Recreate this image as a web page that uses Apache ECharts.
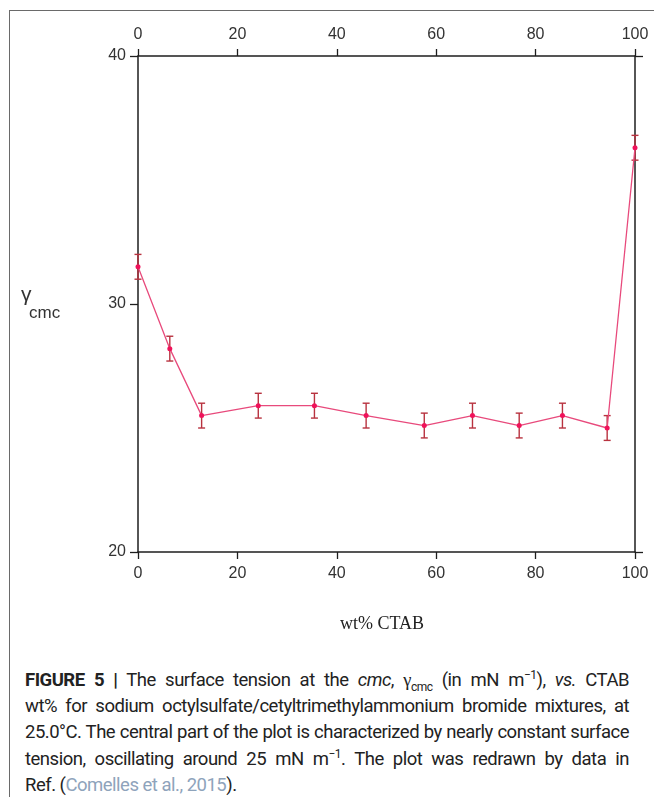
<!DOCTYPE html>
<html>
<head>
<meta charset="utf-8">
<script src="https://cdn.jsdelivr.net/npm/echarts@6/dist/echarts.min.js"></script>
<style>
  html, body { margin: 0; padding: 0; background: #fff; }
  #wrap { position: relative; width: 654px; height: 797px; overflow: hidden; }
  #frameTop { position: absolute; left: 9px; top: 10px; width: 645px; height: 0; border-top: 1px solid #6a6a6a; }
  #frameLeft { position: absolute; left: 9px; top: 10px; width: 0; height: 787px; border-left: 1px solid #6a6a6a; }
  #chart { position: absolute; left: 0; top: 0; width: 654px; height: 650px; }
  #caption { position: absolute; left: 25px; top: 667px; width: 604px; font-family: Roboto, "Liberation Sans", sans-serif; font-size: 18.5px; color: #222; letter-spacing: -0.5px; }
  #caption .ln { height: 26.2px; line-height: 26.2px; text-align: justify; text-align-last: justify; white-space: nowrap; }
  #caption .last { text-align: left; text-align-last: left; }
  #caption sup, #caption sub { font-size: 12px; line-height: 0; }
  #caption .ref { color: #8ea3bb; }
</style>
</head>
<body>
<div id="wrap">
  <div id="frameTop"></div>
  <div id="frameLeft"></div>
  <div id="chart"></div>
  <div id="caption">
    <div class="ln"><b>FIGURE 5 |</b> The surface tension at the <i>cmc</i>, <span style="font-family:'Liberation Serif',serif">γ</span><sub>cmc</sub> (in mN m<sup>−1</sup>), <i>vs.</i> CTAB</div>
    <div class="ln">wt% for sodium octylsulfate/cetyltrimethylammonium bromide mixtures, at</div>
    <div class="ln">25.0°C. The central part of the plot is characterized by nearly constant surface</div>
    <div class="ln">tension, oscillating around 25 mN m<sup>−1</sup>. The plot was redrawn by data in</div>
    <div class="ln last">Ref. (<span class="ref">Comelles et al., 2015</span>).</div>
  </div>
</div>
<script>
// ---- data ----
const wtCTAB   = [0, 6.4, 12.8, 24.2, 35.5, 45.9, 57.6, 67.3, 76.7, 85.4, 94.4, 100];
const gammaCmc = [31.5, 28.2, 25.5, 25.9, 25.9, 25.5, 25.1, 25.5, 25.1, 25.5, 25.0, 36.3];
const gammaErr = [0.5, 0.5, 0.5, 0.5, 0.5, 0.5, 0.5, 0.5, 0.5, 0.5, 0.5, 0.5];
const xTicks = [0, 20, 40, 60, 80, 100];
const yTicks = [20, 30, 40];

const lineData = wtCTAB.map((x, i) => [x, gammaCmc[i]]);
const errData = wtCTAB.map((x, i) => [x, gammaCmc[i] - gammaErr[i], gammaCmc[i] + gammaErr[i]]);

const axisColor = '#1e1e1e';
const labelStyle = { color: '#333', fontSize: 16, fontFamily: 'Liberation Sans, Arial, sans-serif' };

const chart = echarts.init(document.getElementById('chart'), null, { renderer: 'canvas' });
chart.setOption({
  animation: false,
  grid: { left: 138, right: 19, top: 56, height: 496, containLabel: false },
  xAxis: [
    {
      type: 'value', position: 'bottom', min: 0, max: 100, interval: 20,
      axisLine: { show: true, onZero: false, lineStyle: { color: axisColor, width: 1.5 } },
      axisTick: { show: true, length: 7, lineStyle: { color: axisColor, width: 1.3 } },
      axisLabel: Object.assign({ margin: 14 }, labelStyle),
      splitLine: { show: false }
    },
    {
      type: 'value', position: 'top', min: 0, max: 100, interval: 20,
      axisLine: { show: true, onZero: false, lineStyle: { color: axisColor, width: 1.5 } },
      axisTick: { show: true, length: 7, lineStyle: { color: axisColor, width: 1.3 } },
      axisLabel: Object.assign({ margin: 13 }, labelStyle),
      splitLine: { show: false }
    }
  ],
  yAxis: [
    {
      type: 'value', position: 'left', min: 20, max: 40, interval: 10,
      axisLine: { show: true, onZero: false, lineStyle: { color: axisColor, width: 1.5 } },
      axisTick: { show: true, length: 8, lineStyle: { color: axisColor, width: 1.3 } },
      axisLabel: Object.assign({ margin: 12 }, labelStyle),
      splitLine: { show: false }
    },
    {
      type: 'value', position: 'right', min: 20, max: 40, interval: 20,
      axisLine: { show: true, onZero: false, lineStyle: { color: axisColor, width: 1.5 } },
      axisTick: { show: true, length: 8, lineStyle: { color: axisColor, width: 1.3 } },
      axisLabel: { show: false },
      splitLine: { show: false }
    }
  ],
  graphic: [
    { type: 'text', left: 21, top: 285, style: { text: 'γ', font: '21px "Liberation Sans", Arial, sans-serif', fill: '#333' } },
    { type: 'text', left: 29, top: 305, style: { text: 'cmc', font: '17px "Liberation Sans", Arial, sans-serif', fill: '#333' } },
    { type: 'text', left: 340, top: 615, style: { text: 'wt% CTAB', font: '18px "Liberation Serif", "Times New Roman", serif', fill: '#222' } }
  ],
  series: [
    {
      type: 'custom',
      xAxisIndex: 0, yAxisIndex: 0,
      data: errData,
      z: 3,
      renderItem: function (params, api) {
        const x = api.value(0);
        const lo = api.coord([x, api.value(1)]);
        const hi = api.coord([x, api.value(2)]);
        const hw = 3.5;
        const st = { stroke: '#b8323f', lineWidth: 1.4 };
        return {
          type: 'group',
          children: [
            { type: 'line', shape: { x1: lo[0], y1: lo[1], x2: hi[0], y2: hi[1] }, style: st },
            { type: 'line', shape: { x1: lo[0] - hw, y1: lo[1], x2: lo[0] + hw, y2: lo[1] }, style: st },
            { type: 'line', shape: { x1: hi[0] - hw, y1: hi[1], x2: hi[0] + hw, y2: hi[1] }, style: st }
          ]
        };
      }
    },
    {
      type: 'line',
      xAxisIndex: 0, yAxisIndex: 0,
      data: lineData,
      z: 4,
      symbol: 'circle', symbolSize: 5,
      lineStyle: { color: '#e84a7c', width: 1.3 },
      itemStyle: { color: '#f0125a' }
    }
  ]
});
</script>
</body>
</html>
